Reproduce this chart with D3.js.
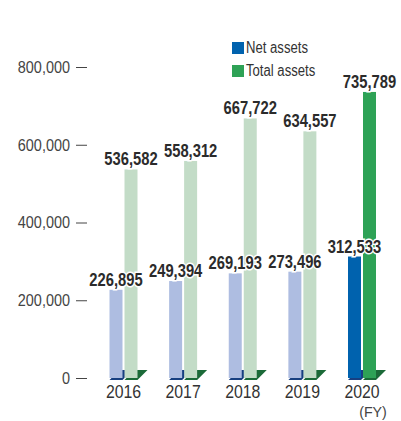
<!DOCTYPE html>
<html>
<head>
<meta charset="utf-8">
<script src="https://cdn.jsdelivr.net/npm/d3@7"></script>
<style>
  body { margin: 0; background: #fff; }
  svg { display: block; }
  text { font-family: "Liberation Sans", Arial, sans-serif; }
</style>
</head>
<body>
<div id="chart"></div>
<script>
const years = ['2016', '2017', '2018', '2019', '2020'];
const netAssets = [226895, 249394, 269193, 273496, 312533];
const totalAssets = [536582, 558312, 667722, 634557, 735789];
const yTicks = [0, 200000, 400000, 600000, 800000];
const seriesNames = ['Net assets', 'Total assets'];

const width = 401, height = 421;
const svg = d3.select('#chart').append('svg')
  .attr('width', width)
  .attr('height', height);

const x = d3.scalePoint().domain(years).range([123.5, 362]);
const xs = d3.scaleBand().domain(seriesNames).range([-14, 14]).paddingInner(2 / 15);
const y = d3.scaleLinear().domain([0, 800000]).range([378, 67]);

const colors = {
  'Net assets': {light: '#aebde1', strong: '#0062ae', shadow: '#173f80'},
  'Total assets': {light: '#c3dcc7', strong: '#2ea256', shadow: '#1b6a38'}
};

// no condensed font installed, so squeeze horizontally
const place = (px, py, k = 0.82) => `translate(${px},${py}) scale(${k},1)`;

// y axis (label + dash)
const yAxis = svg.append('g');
yAxis.selectAll('text')
  .data(yTicks)
  .enter()
  .append('text')
  .attr('transform', d => place(70, y(d), 0.85))
  .attr('dy', '0.35em')
  .attr('text-anchor', 'end')
  .attr('font-size', 17)
  .attr('fill', '#444')
  .text(d => d3.format(',')(d));
yAxis.selectAll('line')
  .data(yTicks)
  .enter()
  .append('line')
  .attr('x1', 76).attr('x2', 87)
  .attr('y1', d => y(d) + 0.5).attr('y2', d => y(d) + 0.5)
  .attr('stroke', '#444')
  .attr('stroke-width', 1);

const rows = [];
years.forEach((yr, i) => {
  rows.push({year: yr, series: 'Net assets', value: netAssets[i], last: i === years.length - 1});
  rows.push({year: yr, series: 'Total assets', value: totalAssets[i], last: i === years.length - 1});
});

const bx = d => x(d.year) + xs(d.series);
const bw = xs.bandwidth();
const base = y(0);

// floor shadows
svg.append('g').selectAll('polygon')
  .data(rows)
  .enter()
  .append('polygon')
  .attr('points', d => {
    const x0 = bx(d), x1 = x0 + bw;
    return [[x0, base + 2], [x1, base + 2], [x1 + 10, base - 8], [x0 + 10, base - 8]].join(' ');
  })
  .attr('fill', d => colors[d.series].shadow);

// bars
svg.append('g').selectAll('rect')
  .data(rows)
  .enter()
  .append('rect')
  .attr('x', bx)
  .attr('y', d => y(d.value))
  .attr('width', bw)
  .attr('height', d => base - y(d.value))
  .attr('fill', d => d.last ? colors[d.series].strong : colors[d.series].light);

// value labels
svg.append('g').selectAll('text')
  .data(rows)
  .enter()
  .append('text')
  .attr('transform', d => place(bx(d) + bw / 2, y(d.value) - 4))
  .attr('text-anchor', 'middle')
  .attr('font-size', 18)
  .attr('font-weight', 'bold')
  .attr('fill', '#2b2b2b')
  .attr('stroke', '#fff')
  .attr('stroke-width', 3)
  .attr('paint-order', 'stroke')
  .text(d => d3.format(',')(d.value));

// x labels
svg.append('g').selectAll('text')
  .data(years)
  .enter()
  .append('text')
  .attr('transform', d => place(x(d), 398, 0.88))
  .attr('text-anchor', 'middle')
  .attr('font-size', 18)
  .attr('fill', '#333')
  .text(d => d);
svg.append('text')
  .attr('transform', place(373, 417, 0.95))
  .attr('text-anchor', 'middle')
  .attr('font-size', 15)
  .attr('fill', '#444')
  .text('(FY)');

// legend
const legend = svg.append('g');
seriesNames.forEach((name, i) => {
  const ly = 42 + i * 23;
  legend.append('rect')
    .attr('x', 232).attr('y', ly)
    .attr('width', 12).attr('height', 12)
    .attr('fill', colors[name].strong);
  legend.append('text')
    .attr('transform', place(246, ly + 11))
    .attr('font-size', 16)
    .attr('fill', '#333')
    .text(name);
});
</script>
</body>
</html>
